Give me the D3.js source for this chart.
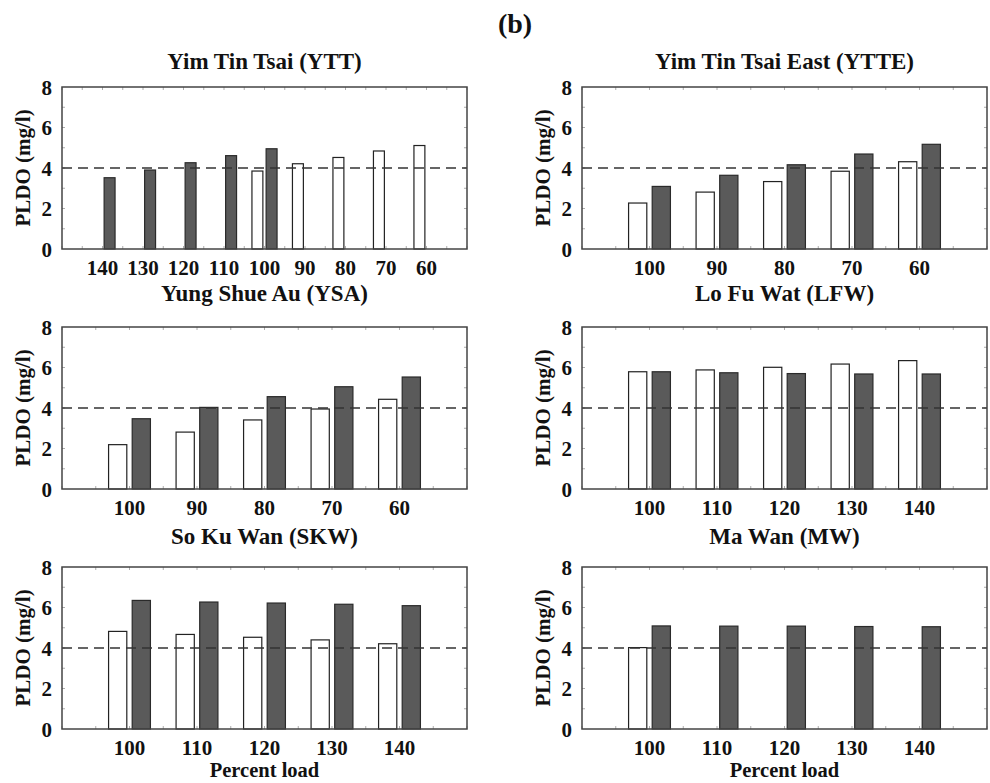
<!DOCTYPE html>
<html>
<head>
<meta charset="utf-8">
<script src="https://cdn.jsdelivr.net/npm/d3@7/dist/d3.min.js"></script>
<style>
body { margin: 0; background: #fff; }
text { font-family: "Liberation Serif", "Times New Roman", serif; font-weight: bold; fill: #111; }
</style>
</head>
<body>
<div id="contenedor"></div>
<script>
// DATOS (PLDO en mg/l)
var titulos = ["Yim Tin Tsai (YTT)", "Yim Tin Tsai East (YTTE)", "Yung Shue Au (YSA)",
               "Lo Fu Wat (LFW)", "So Ku Wan (SKW)", "Ma Wan (MW)"]

var catsYTT  = [140, 130, 120, 110, 100, 90, 80, 70, 60]
var blancoYTT = [null, null, null, null, 3.85, 4.21, 4.52, 4.84, 5.11]
var oscuroYTT = [3.52, 3.90, 4.26, 4.61, 4.95, null, null, null, null]

var catsYTTE  = [100, 90, 80, 70, 60]
var blancoYTTE = [2.27, 2.81, 3.33, 3.84, 4.31]
var oscuroYTTE = [3.09, 3.64, 4.16, 4.69, 5.17]

var catsYSA  = [100, 90, 80, 70, 60]
var blancoYSA = [2.19, 2.81, 3.41, 3.95, 4.43]
var oscuroYSA = [3.47, 4.03, 4.56, 5.05, 5.53]

var catsLFW  = [100, 110, 120, 130, 140]
var blancoLFW = [5.79, 5.88, 6.01, 6.17, 6.34]
var oscuroLFW = [5.79, 5.74, 5.70, 5.68, 5.68]

var catsSKW  = [100, 110, 120, 130, 140]
var blancoSKW = [4.82, 4.67, 4.53, 4.40, 4.21]
var oscuroSKW = [6.35, 6.27, 6.22, 6.16, 6.09]

var catsMW  = [100, 110, 120, 130, 140]
var blancoMW = [4.02, null, null, null, null]
var oscuroMW = [5.09, 5.08, 5.08, 5.06, 5.05]

var ticksY = [0, 2, 4, 6, 8]
var limite = 4
var tituloFigura = "(b)"
var etiquetaY = "PLDO (mg/l)"
var etiquetaX = "Percent load"

var paneles = [
  {titulo: titulos[0], cats: catsYTT, blanco: blancoYTT, oscuro: oscuroYTT},
  {titulo: titulos[1], cats: catsYTTE, blanco: blancoYTTE, oscuro: oscuroYTTE},
  {titulo: titulos[2], cats: catsYSA, blanco: blancoYSA, oscuro: oscuroYSA},
  {titulo: titulos[3], cats: catsLFW, blanco: blancoLFW, oscuro: oscuroLFW},
  {titulo: titulos[4], cats: catsSKW, blanco: blancoSKW, oscuro: oscuroSKW},
  {titulo: titulos[5], cats: catsMW, blanco: blancoMW, oscuro: oscuroMW}
]

ancho = 990
alto = 783

var izq = [62, 582]
var arriba = [87, 327, 567]
var anchoP = 405
var altoP = 162
var baseTitulo = [69, 301, 544]

contenedor = d3.select("#contenedor")
  .append("svg")
  .attr("width", ancho)
  .attr("height", alto)

contenedor.append("text")
  .attr("x", 515)
  .attr("y", 33)
  .attr("text-anchor", "middle")
  .style("font-size", "28px")
  .text(tituloFigura)

paneles.forEach(function(p, i) {
  var col = i % 2
  var fila = Math.floor(i / 2)
  var x0 = izq[col]
  var y0 = arriba[fila]

  var g = contenedor.append("g")
    .attr("transform", "translate(" + x0 + "," + y0 + ")")

  //ESCALAS
  var escalaX = d3.scaleBand()
    .domain(p.cats)
    .range([0, anchoP])
    .paddingInner(0)
    .paddingOuter(0.5)
  var paso = escalaX.step()
  var anchoBarra = 0.27 * paso

  var escalaY = d3.scaleLinear()
    .domain([0, 8])
    .range([altoP, 0])

  // ticks pequeños hacia dentro
  var ticksMenoresX = d3.range(0, anchoP + 0.1, paso / 2)
  g.selectAll(".tx")
    .data(ticksMenoresX)
    .enter()
    .append("path")
    .attr("d", function(d) { return "M" + d + "," + altoP + "v-3M" + d + ",0v3" })
    .attr("stroke", "#999")
    .attr("stroke-width", 0.8)
  g.selectAll(".ty")
    .data(d3.range(1, 8))
    .enter()
    .append("path")
    .attr("d", function(d) { return "M0," + escalaY(d) + "h3M" + anchoP + "," + escalaY(d) + "h-3" })
    .attr("stroke", "#999")
    .attr("stroke-width", 0.8)

  var filas = p.cats.map(function(c, j) {
    return {cat: c, blanco: p.blanco[j], oscuro: p.oscuro[j]}
  })

  // barras blancas
  g.selectAll(".blanca")
    .data(filas.filter(function(d) { return d.blanco != null }))
    .enter()
    .append("rect")
    .attr("x", function(d) { return escalaX(d.cat) + paso / 2 - 0.175 * paso - anchoBarra / 2 })
    .attr("y", function(d) { return escalaY(d.blanco) })
    .attr("width", anchoBarra)
    .attr("height", function(d) { return altoP - escalaY(d.blanco) })
    .attr("fill", "#fff")
    .attr("stroke", "#222")
    .attr("stroke-width", 1.2)

  // barras oscuras
  g.selectAll(".oscura")
    .data(filas.filter(function(d) { return d.oscuro != null }))
    .enter()
    .append("rect")
    .attr("x", function(d) { return escalaX(d.cat) + paso / 2 + 0.175 * paso - anchoBarra / 2 })
    .attr("y", function(d) { return escalaY(d.oscuro) })
    .attr("width", anchoBarra)
    .attr("height", function(d) { return altoP - escalaY(d.oscuro) })
    .attr("fill", "#5a5a5a")
    .attr("stroke", "#2a2a2a")
    .attr("stroke-width", 1.2)

  // linea discontinua en 4 mg/l
  g.append("line")
    .attr("x1", 0)
    .attr("x2", anchoP)
    .attr("y1", escalaY(limite))
    .attr("y2", escalaY(limite))
    .attr("stroke", "#333")
    .attr("stroke-width", 1.4)
    .attr("stroke-dasharray", "10,6")

  // marco
  g.append("rect")
    .attr("width", anchoP)
    .attr("height", altoP)
    .attr("fill", "none")
    .attr("stroke", "#444")
    .attr("stroke-width", 1.5)

  //EJES
  var ejeY = d3.axisLeft(escalaY).tickValues(ticksY).tickSize(0).tickPadding(10)
  g.append("g").call(ejeY)
    .call(function(s) { s.select(".domain").remove() })
    .selectAll("text")
    .style("font-size", "21px")
    .attr("dy", "0.35em")

  var ejeX = d3.axisBottom(escalaX).tickSize(0).tickPadding(0)
  g.append("g")
    .attr("transform", "translate(0," + altoP + ")")
    .call(ejeX)
    .call(function(s) { s.select(".domain").remove() })
    .selectAll("text")
    .style("font-size", "21px")
    .attr("dy", null)
    .attr("y", 26)

  g.append("text")
    .attr("transform", "translate(-32," + (altoP / 2) + ") rotate(-90)")
    .attr("text-anchor", "middle")
    .style("font-size", "21px")
    .text(etiquetaY)

  contenedor.append("text")
    .attr("x", x0 + anchoP / 2)
    .attr("y", baseTitulo[fila])
    .attr("text-anchor", "middle")
    .style("font-size", "23px")
    .text(p.titulo)

  if (fila == 2) {
    g.append("text")
      .attr("x", anchoP / 2)
      .attr("y", altoP + 48)
      .attr("text-anchor", "middle")
      .style("font-size", "20.5px")
      .text(etiquetaX)
  }
})
</script>
</body>
</html>
